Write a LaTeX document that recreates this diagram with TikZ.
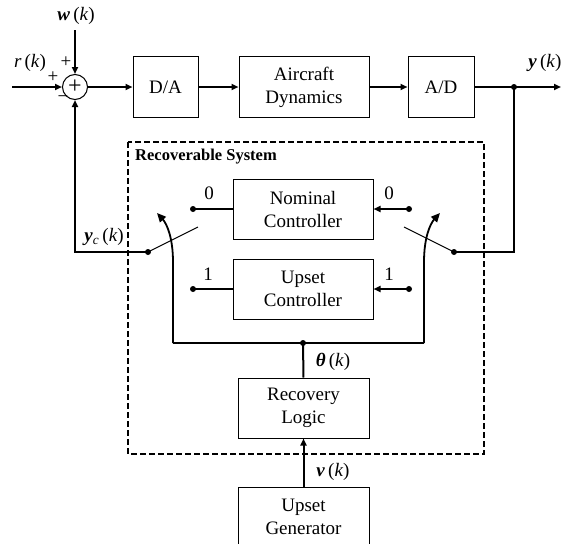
\documentclass[tikz,border=0pt]{standalone}
\usepackage{fontspec}
\setmainfont{Liberation Serif}
\usetikzlibrary{arrows.meta}
\begin{document}
\begin{tikzpicture}[x=1pt,y=-1pt,
  blk/.style={draw, line width=1pt, inner sep=0pt, align=center, font=\fontsize{19}{23}\selectfont},
  wire/.style={line width=2pt},
  thin/.style={line width=1.1pt},
  arr/.style={wire, -{Triangle[length=7pt,width=6pt]}},
  carr/.style={line width=1.8pt, -{Triangle[length=9pt,width=8pt]}},
  dot/.style={circle, fill, inner sep=0pt, minimum size=6pt},
  lbl/.style={font=\fontsize{19}{23}\selectfont, inner sep=0pt},
  sgn/.style={font=\fontsize{19}{22}\selectfont, inner sep=0pt}]
\useasboundingbox (0,0) rectangle (563,544);
\clip (0,0) rectangle (563,544);
% top loop
\node[circle, draw, line width=1pt, minimum size=25pt, inner sep=0pt, font=\fontsize{24}{26}\selectfont] (sum) at (75,87) {};
\node[font=\fontsize{24}{26}\selectfont, inner sep=0pt] (plus) at (75,87) {+};
\node[blk, minimum width=65pt, minimum height=61pt] (da) at (165.5,87) {D/A};
\node[blk, minimum width=130pt, minimum height=61pt] (ac) at (304,87) {Aircraft\\Dynamics};
\node[blk, minimum width=66pt, minimum height=61pt] (ad) at (441,87) {A/D};
\coordinate (in) at (12,87);
\coordinate (wtop) at (75,30);
\coordinate (out) at (561,87);
\node[dot] (j1) at (514,87) {};
\draw[arr] (in) -- (sum.west);
\draw[arr] (wtop) -- (sum.north);
\draw[arr] (sum.east) -- (da.west);
\draw[arr] (da.east) -- (ac.west);
\draw[arr] (ac.east) -- (ad.west);
\draw[arr] (ad.east) -- (out);
\node[lbl] (wl) at (76,16) {\textbf{\textit{w}}\,(\textit{k})};
\node[lbl] (rl) at (30,63) {\textit{r}\,(\textit{k})};
\node[lbl] (yl) at (545,63) {\textbf{\textit{y}}\,(\textit{k})};
\node[sgn] (s1) at (66,62) {+};
\node[sgn] (s2) at (53,77) {+};
\node[sgn] (s3) at (63,99) {−};
% controllers
\node[blk, minimum width=140pt, minimum height=60pt] (nom) at (303,209) {Nominal\\Controller};
\node[blk, minimum width=140pt, minimum height=60pt] (ups) at (303,289) {Upset\\Controller};
\node[dot] (l0) at (193,209) {};
\node[dot] (l1) at (193,289) {};
\node[dot] (r0) at (409,209) {};
\node[dot] (r1) at (409,289) {};
\draw[wire] (l0.center) -- (nom.west);
\draw[wire] (l1.center) -- (ups.west);
\draw[arr] (r0.center) -- (nom.east);
\draw[arr] (r1.center) -- (ups.east);
\node[lbl] (n0l) at (209,193) {0};
\node[lbl] (n1l) at (208,274) {1};
\node[lbl] (n0r) at (389,193) {0};
\node[lbl] (n1r) at (389,274) {1};
% switches
\node[dot] (lp) at (148,252) {};
\node[dot] (rp) at (454,252) {};
\coordinate (lb) at (198,227);
\coordinate (rb) at (404,227);
\draw[thin] (lp.center) -- (lb);
\draw[thin] (rp.center) -- (rb);
\coordinate (lc) at (75,252);
\coordinate (rc) at (514,252);
\draw[arr] (lp.center) -- (lc) -- (sum.south);
\draw[wire] (rp.center) -- (rc) -- (j1.center);
\node[lbl, anchor=east] (ycl) at (124,237) {\textbf{\textit{y}}\textsubscript{\textit{c}}\,(\textit{k})};
% theta bar
\coordinate (bl) at (173,343);
\coordinate (br) at (424,343);
\node[dot] (j2) at (303,343) {};
\draw[thin] (bl) -- (br);
\draw[carr] (bl) -- (173,262) .. controls (173,238) and (167,224) .. (157,213);
\draw[carr] (br) -- (424,262) .. controls (424,238) and (430,224) .. (440,213);
\node[blk, minimum width=131pt, minimum height=60pt] (rec) at (303.5,408) {Recovery\\Logic};
\draw[wire] (j2.center) -- (rec.north);
\node[lbl] (thl) at (333,362) {\textbf{\textit{θ}}\,(\textit{k})};
% generator
\node[blk, minimum width=131pt, minimum height=60pt] (gen) at (303.5,517) {Upset\\Generator};
\draw[arr] (gen.north) -- (rec.south);
\node[lbl] (vl) at (333,472) {\textbf{\textit{v}}\,(\textit{k})};
% dashed system boundary
\draw[wire, dash pattern=on 6pt off 3pt] (128,142) rectangle (484,454);
\node[anchor=west, inner sep=0pt, font=\bfseries\fontsize{16.5}{19}\selectfont] (rs) at (135,157) {Recoverable System};
\end{tikzpicture}
\end{document}
